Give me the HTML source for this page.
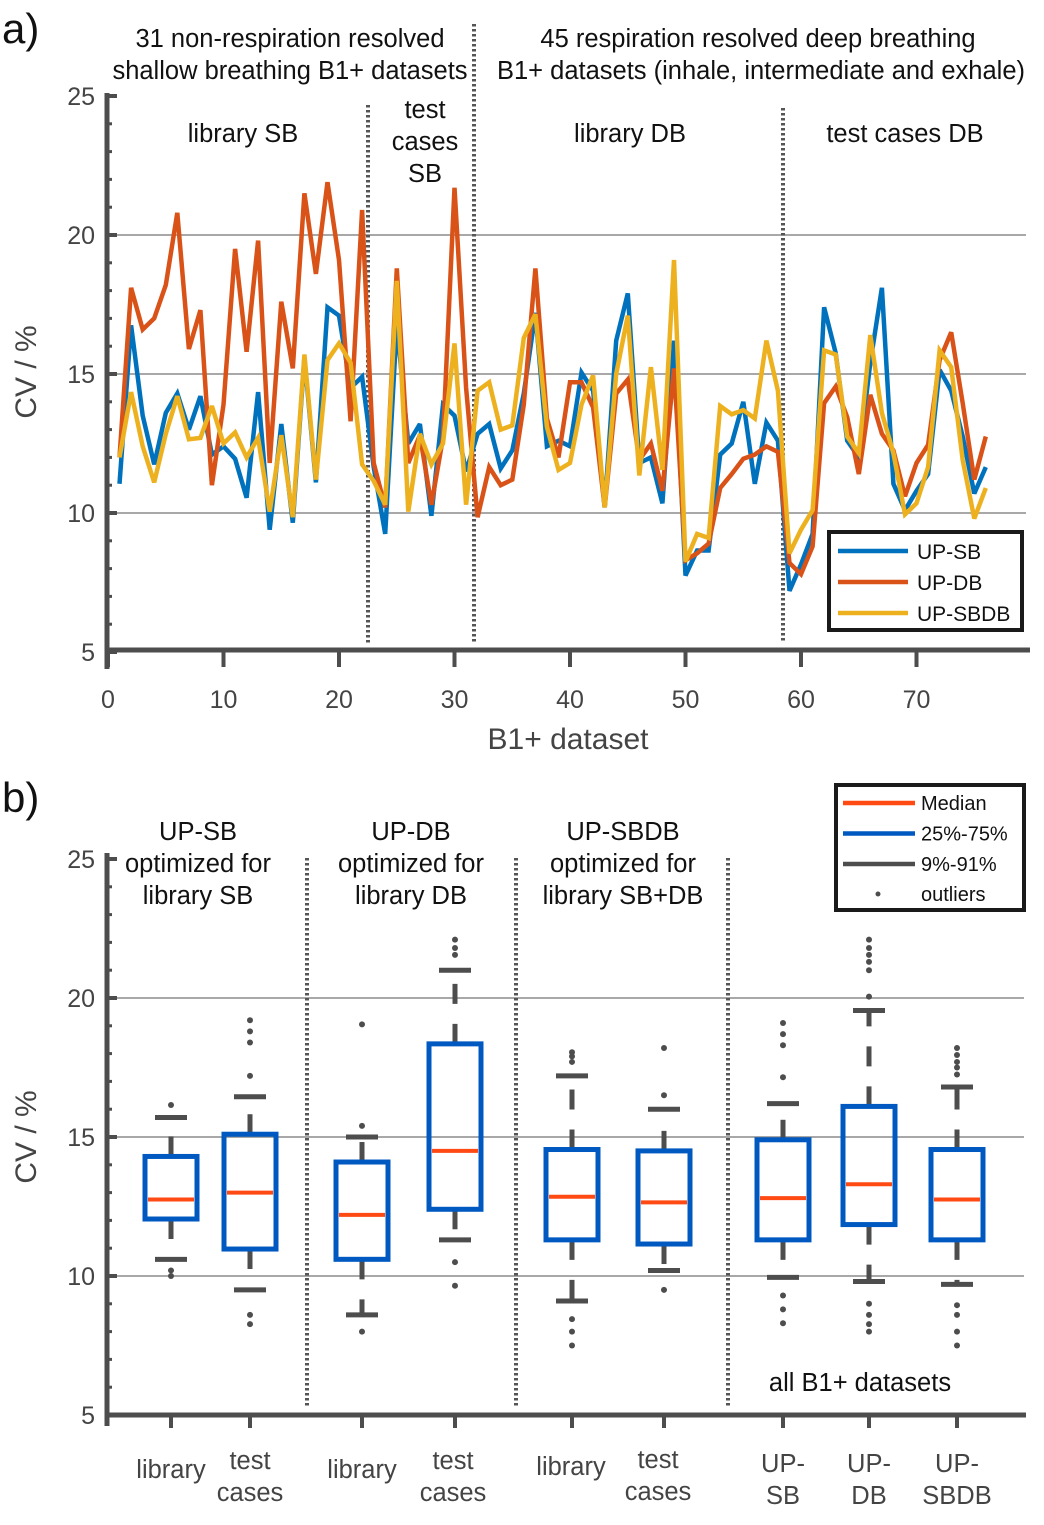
<!DOCTYPE html>
<html><head><meta charset="utf-8">
<style>
html,body{margin:0;padding:0;background:#fff;}
svg{display:block;font-family:"Liberation Sans",sans-serif;}
</style></head>
<body>
<svg id="fig" width="1044" height="1525" viewBox="0 0 1044 1525" xmlns="http://www.w3.org/2000/svg">
<g id="pa"></g>
<g id="pb"></g>
</svg>
<script>
// ---------- Panel a data ----------
const upSB = [11.05,16.75,13.5,11.75,13.6,14.3,13.0,14.2,12.1,12.4,11.95,10.55,14.35,9.4,13.2,9.65,15.6,11.1,17.4,17.1,14.5,14.9,11.65,9.25,16.8,12.5,13.2,9.9,13.9,13.5,11.5,12.85,13.2,11.6,12.25,14.3,17.2,12.4,12.6,12.4,15.05,14.4,10.2,16.2,17.9,11.8,12.0,10.35,16.2,7.75,8.65,8.65,12.1,12.5,14.0,11.05,13.25,12.6,7.2,8.15,9.25,17.4,15.75,12.6,12.0,15.4,18.1,11.05,10.1,10.8,11.4,15.15,14.4,12.75,10.7,11.65];
const upDB = [12.0,18.1,16.6,17.0,18.2,20.8,15.9,17.3,11.0,13.9,19.5,15.8,19.8,11.8,17.6,15.2,21.5,18.6,21.9,19.1,13.3,20.9,11.8,10.2,18.8,11.8,12.8,10.3,12.7,21.7,14.5,9.85,11.65,11.0,11.2,13.9,18.8,13.4,12.0,14.7,14.7,13.8,10.2,14.3,14.8,11.9,12.5,10.8,15.2,8.3,8.55,8.9,10.9,11.4,11.95,12.1,12.4,12.2,8.2,7.8,8.8,13.95,14.55,13.45,11.4,14.25,12.85,12.25,10.6,11.8,12.45,15.5,16.5,13.95,11.2,12.75];
const upSBDB = [12.0,14.35,12.4,11.1,12.85,14.2,12.65,12.7,13.85,12.5,12.9,12.0,12.7,10.05,12.8,9.85,15.7,11.2,15.5,16.1,15.4,11.75,11.15,10.3,18.35,10.05,12.85,11.75,12.5,16.1,10.3,14.4,14.7,13.0,13.15,16.3,17.15,13.1,11.55,11.8,13.9,14.95,10.2,15.0,17.1,11.35,15.25,11.55,19.1,8.25,9.25,9.1,13.85,13.55,13.7,13.4,16.2,14.4,8.55,9.4,10.1,15.85,15.7,12.75,12.15,16.4,13.6,12.15,9.95,10.35,11.65,15.85,15.25,11.9,9.8,10.9];
const seriesNames = ["UP-SB","UP-DB","UP-SBDB"];
const xTicksA = [0,10,20,30,40,50,60,70];
const yTicks = [5,10,15,20,25];

// ---------- Panel b data ----------
const boxLabels = ["library","test cases","library","test cases","library","test cases","UP-SB","UP-DB","UP-SBDB"];
const q1 = [12.05,10.97,10.6,12.4,11.3,11.15,11.3,11.85,11.3];
const med = [12.75,13.0,12.2,14.5,12.85,12.65,12.8,13.3,12.75];
const q3 = [14.3,15.1,14.1,18.35,14.55,14.5,14.9,16.1,14.55];
const whLo = [10.6,9.5,8.6,11.3,9.1,10.2,9.95,9.8,9.7];
const whHi = [15.7,16.45,15.0,21.0,17.2,16.0,16.2,19.55,16.8];
const outliers = [
 [10.2,10.0,16.15],
 [19.2,18.8,18.4,17.2,8.6,8.27],
 [19.05,15.4,8.0],
 [22.1,21.8,21.55,10.5,9.65],
 [18.05,17.9,17.7,8.45,8.0,7.5],
 [18.2,16.5,9.5],
 [19.1,18.7,18.3,17.15,9.3,8.8,8.3],
 [22.1,21.8,21.55,21.3,21.0,20.05,9.0,8.6,8.27,8.0],
 [18.2,17.95,17.7,17.5,17.25,8.95,8.6,8.0,7.5]
];

const NS="http://www.w3.org/2000/svg";
function mk(parent,tag,attrs,text){const e=document.createElementNS(NS,tag);for(const k in attrs)e.setAttribute(k,attrs[k]);if(text!==undefined)e.textContent=text;parent.appendChild(e);return e;}

const GRAY="#4d4d4d", TXT="#444";
const FS=25.5;
// ---- Panel a ----
const pa=document.getElementById('pa');
const ax=v=>108+11.55*v;
const ay=v=>652-(v-5)*27.8;
[10,15,20].forEach(v=>{const l=mk(pa,'line',{x1:108,x2:1026,y1:ay(v),y2:ay(v),stroke:'#8c8c8c','stroke-width':1.5});

});
[[368,105],[474,24],[783,108]].forEach((s,i)=>{const l=mk(pa,'line',{x1:s[0],x2:s[0],y1:s[1],y2:643,stroke:'#555','stroke-width':4,'stroke-dasharray':'2.5 2.5'});

});
const colors=["#0072bd","#d95319","#edb120"];
[upSB,upDB,upSBDB].forEach((arr,si)=>{
 const pts=arr.map((v,i)=>ax(i+1).toFixed(1)+','+ay(v).toFixed(1)).join(' ');
 const p=mk(pa,'polyline',{points:pts,fill:'none',stroke:colors[si],'stroke-width':4.5,'stroke-linejoin':'miter','stroke-miterlimit':3});
 
 
});
mk(pa,'line',{x1:107,x2:107,y1:93,y2:669,stroke:GRAY,'stroke-width':5});
mk(pa,'line',{x1:105,x2:1030,y1:650,y2:650,stroke:GRAY,'stroke-width':5});
for(let v=5;v<=25;v++){const major=v%5===0;mk(pa,'line',{x1:107,x2:major?117:112,y1:ay(v),y2:ay(v),stroke:GRAY,'stroke-width':major?4:3});}
yTicks.forEach(v=>{const t=mk(pa,'text',{x:95,y:ay(v)+9,'text-anchor':'end','font-size':25,fill:TXT},String(v));

});
xTicksA.forEach(v=>{mk(pa,'line',{x1:ax(v),x2:ax(v),y1:650,y2:667,stroke:GRAY,'stroke-width':4});
const t=mk(pa,'text',{x:ax(v),y:708,'text-anchor':'middle','font-size':25,fill:TXT},String(v));

});
function txt(g,x,y,s,size,name,anchor,fill){const t=mk(g,'text',{x:x,y:y,'text-anchor':anchor||'middle','font-size':size,fill:fill||'#111'},s);return t;}
txt(pa,568,749,'B1+ dataset',30,'x-axis-title-a','middle',TXT);
const yt=txt(pa,0,0,'CV / %',30,'y-axis-title-a','middle',TXT);yt.setAttribute('transform','translate(36,372) rotate(-90)');
txt(pa,2,43,'a)',42,'panel-a-label','start','#111');
txt(pa,290,47,'31 non-respiration resolved',FS,'group-title-sb-1');
txt(pa,290,79,'shallow breathing B1+ datasets',FS,'group-title-sb-2');
txt(pa,758,47,'45 respiration resolved deep breathing',FS,'group-title-db-1');
txt(pa,761,79,'B1+ datasets (inhale, intermediate and exhale)',FS,'group-title-db-2');
txt(pa,243,142,'library SB',FS,'section-library-sb');
txt(pa,425,118,'test',FS,'section-test-sb-1');
txt(pa,425,150,'cases',FS,'section-test-sb-2');
txt(pa,425,182,'SB',FS,'section-test-sb-3');
txt(pa,630,142,'library DB',FS,'section-library-db');
txt(pa,905,142,'test cases DB',FS,'section-test-db');
const lg=mk(pa,'g',{});
mk(lg,'rect',{x:829,y:532,width:193,height:98,fill:'#fff',stroke:'#1a1a1a','stroke-width':4});
seriesNames.forEach((n,i)=>{const y=551+i*31;
const l=mk(lg,'line',{x1:838,x2:908,y1:y,y2:y,stroke:colors[i],'stroke-width':4.5});


txt(lg,917,y+8,n,21,'legend-entry-'+n.toLowerCase(),'start');});

// ---- Panel b ----
const pb=document.getElementById('pb');
const by=v=>1415-(v-5)*27.8;
const boxX=[171,250,362,455,572,664,783,869,957];
[10,15,20].forEach(v=>{const l=mk(pb,'line',{x1:108,x2:1024,y1:by(v),y2:by(v),stroke:'#8c8c8c','stroke-width':1.5});

});
[307,516,728].forEach((x,i)=>{const l=mk(pb,'line',{x1:x,x2:x,y1:858,y2:1408,stroke:'#555','stroke-width':4,'stroke-dasharray':'2.5 2.5'});

});
boxX.forEach((x,i)=>{
 const g=mk(pb,'g',{});
 const hw=26;
 mk(g,'line',{x1:x,x2:x,y1:by(q3[i]),y2:by(whHi[i]),stroke:GRAY,'stroke-width':5,'stroke-dasharray':'20 20'});
 mk(g,'line',{x1:x,x2:x,y1:by(q1[i]),y2:by(whLo[i]),stroke:GRAY,'stroke-width':5,'stroke-dasharray':'20 20'});
 mk(g,'line',{x1:x-16,x2:x+16,y1:by(whHi[i]),y2:by(whHi[i]),stroke:GRAY,'stroke-width':5});
 mk(g,'line',{x1:x-16,x2:x+16,y1:by(whLo[i]),y2:by(whLo[i]),stroke:GRAY,'stroke-width':5});
 mk(g,'rect',{x:x-hw,y:by(q3[i]),width:2*hw,height:by(q1[i])-by(q3[i]),fill:'none',stroke:'#0059c1','stroke-width':5});
 mk(g,'line',{x1:x-hw+3,x2:x+hw-3,y1:by(med[i]),y2:by(med[i]),stroke:'#ff4a14','stroke-width':4});
 outliers[i].forEach(v=>{mk(g,'circle',{cx:x,cy:by(v),r:3,fill:GRAY});});
});
mk(pb,'line',{x1:107,x2:107,y1:853,y2:1426,stroke:GRAY,'stroke-width':5});
mk(pb,'line',{x1:105,x2:1026,y1:1415,y2:1415,stroke:GRAY,'stroke-width':5});
for(let v=5;v<=25;v++){const major=v%5===0;mk(pb,'line',{x1:107,x2:major?117:112,y1:by(v),y2:by(v),stroke:GRAY,'stroke-width':major?4:3});}
yTicks.forEach(v=>{const t=mk(pb,'text',{x:95,y:by(v)+9,'text-anchor':'end','font-size':25,fill:TXT},String(v));

});
boxX.forEach(x=>{mk(pb,'line',{x1:x,x2:x,y1:1415,y2:1428,stroke:GRAY,'stroke-width':4});});
const lblPos=[[171,[1478]],[250,[1469,1501]],[362,[1478]],[453,[1469,1501]],[571,[1475]],[658,[1468,1500]],[783,[1472,1504]],[869,[1472,1504]],[957,[1472,1504]]];
const lblParts=[["library"],["test","cases"],["library"],["test","cases"],["library"],["test","cases"],["UP-","SB"],["UP-","DB"],["UP-","SBDB"]];
lblPos.forEach((p,i)=>{lblParts[i].forEach((s,j)=>txt(pb,p[0],p[1][j],s,FS,'x-label-b-'+(i+1)+'-'+j,'middle',TXT));});
const ytb=txt(pb,0,0,'CV / %',30,'y-axis-title-b','middle',TXT);ytb.setAttribute('transform','translate(36,1137) rotate(-90)');
txt(pb,2,812,'b)',42,'panel-b-label','start','#111');
[[198,'UP-SB','library SB'],[411,'UP-DB','library DB'],[623,'UP-SBDB','library SB+DB']].forEach((h,i)=>{
 txt(pb,h[0],840,h[1],FS,'group-b-title-'+i+'-1');
 txt(pb,h[0],872,'optimized for',FS,'group-b-title-'+i+'-2');
 txt(pb,h[0],904,h[2],FS,'group-b-title-'+i+'-3');
});
txt(pb,860,1391,'all B1+ datasets',FS,'section-all-datasets');
const lb=mk(pb,'g',{});
mk(lb,'rect',{x:836,y:785,width:188,height:125,fill:'#fff',stroke:'#1a1a1a','stroke-width':4});
[['Median','#ff4a14'],['25%-75%','#0059c1'],['9%-91%',GRAY]].forEach((e,i)=>{const y=803+i*30.5;
 mk(lb,'line',{x1:843,x2:915,y1:y,y2:y,stroke:e[1],'stroke-width':4.5});
 txt(lb,921,y+7,e[0],20,'legend-b-entry-'+i,'start');});
mk(lb,'circle',{cx:878,cy:894,r:2.5,fill:GRAY});
txt(lb,921,901,'outliers',20,'legend-b-entry-outliers','start');
</script>
</body></html>
